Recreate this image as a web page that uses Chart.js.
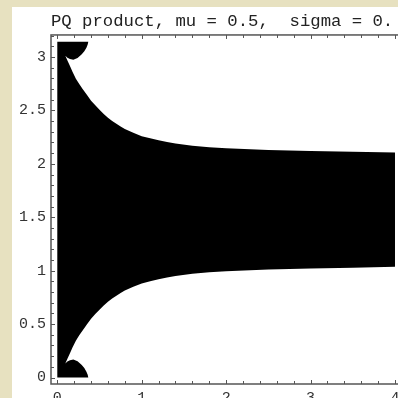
<!DOCTYPE html>
<html>
<head>
<meta charset="utf-8">
<script src="https://cdn.jsdelivr.net/npm/chart.js@4.4.0/dist/chart.umd.min.js"></script>
<style>
  html, body { margin: 0; padding: 0; width: 398px; height: 398px; overflow: hidden; background: #e7e1c0; }
  #panel { position: absolute; left: 12px; top: 7px; width: 420px; height: 400px; background: #fff; }
</style>
</head>
<body>
<div id="panel"><canvas id="myChart" width="420" height="400"></canvas></div>
<script>
const ctx = document.getElementById('myChart').getContext('2d');

const chartTitle = 'PQ product, mu = 0.5,  sigma = 0.';
const xTicks = [0, 1, 2, 3, 4];
const xTickLabels = ['0', '1', '2', '3', '4'];
const yTicks = [0, 0.5, 1, 1.5, 2, 2.5, 3];
const yTickLabels = ['0', '0.5', '1', '1.5', '2', '2.5', '3'];

// band edges (first point is the cusp)
const edgeX     = [0.095, 0.12, 0.15, 0.18, 0.22, 0.26, 0.3, 0.35, 0.4, 0.45, 0.5, 0.55, 0.6, 0.65, 0.7, 0.75, 0.8, 0.9, 1.0, 1.1, 1.2, 1.3, 1.4, 1.6, 1.8, 2.0, 2.5, 3.0, 3.5, 4.0];
const lowerEdge = [0.13, 0.175, 0.227, 0.28, 0.345, 0.395, 0.44, 0.495, 0.55, 0.595, 0.635, 0.675, 0.71, 0.74, 0.765, 0.79, 0.815, 0.85, 0.88, 0.90, 0.92, 0.937, 0.95, 0.972, 0.985, 0.995, 1.01, 1.02, 1.028, 1.036];
const upperEdge = [3.012, 2.967, 2.915, 2.862, 2.797, 2.747, 2.70, 2.647, 2.59, 2.547, 2.507, 2.467, 2.43, 2.40, 2.375, 2.35, 2.325, 2.29, 2.258, 2.24, 2.22, 2.204, 2.19, 2.168, 2.155, 2.145, 2.13, 2.12, 2.113, 2.105];

// the little round notches in the corners
const notchX      = [0.095, 0.12, 0.15, 0.19, 0.24, 0.29, 0.32, 0.345, 0.36, 0.367];
const bottomNotch = [0.13, 0.15, 0.162, 0.168, 0.152, 0.117, 0.088, 0.055, 0.025, 0];
const topNotch    = [3.012, 2.992, 2.98, 2.974, 2.99, 3.025, 3.054, 3.087, 3.117, 3.1416];

const yTop = 3.1416;

// walk round the black region once
const outline = [{x: 0, y: 0}];
for (let i = notchX.length - 1; i >= 0; i--) outline.push({x: notchX[i], y: bottomNotch[i]});
for (let i = 1; i < edgeX.length; i++) outline.push({x: edgeX[i], y: lowerEdge[i]});
for (let i = edgeX.length - 1; i >= 1; i--) outline.push({x: edgeX[i], y: upperEdge[i]});
for (let i = 0; i < notchX.length; i++) outline.push({x: notchX[i], y: topNotch[i]});
outline.push({x: 0, y: yTop});

// Mathematica style frame with inward ticks
const framePlugin = {
    id: 'frame',
    afterDraw(chart) {
        const {ctx, chartArea: a, scales: {x, y}} = chart;
        ctx.save();
        ctx.strokeStyle = '#555';
        ctx.lineWidth = 1.5;
        ctx.strokeRect(a.left, a.top, a.right - a.left, a.bottom - a.top);
        ctx.lineWidth = 1;
        ctx.beginPath();
        for (let i = 0; i <= 20; i++) {
            const len = i % 5 === 0 ? 4 : 3;
            const px = Math.round(x.getPixelForValue(i / 5)) + 0.5;
            ctx.moveTo(px, a.bottom); ctx.lineTo(px, a.bottom - len);
            ctx.moveTo(px, a.top); ctx.lineTo(px, a.top + len);
        }
        for (let i = 0; i <= 32; i++) {
            const len = i % 5 === 0 ? 4 : 3;
            const py = Math.round(y.getPixelForValue(i / 10)) + 0.5;
            ctx.moveTo(a.left, py); ctx.lineTo(a.left + len, py);
            ctx.moveTo(a.right, py); ctx.lineTo(a.right - len, py);
        }
        ctx.stroke();
        ctx.restore();
    }
};

const tickFont = {family: '"Liberation Mono", "Courier New", monospace', size: 15};

const myChart = new Chart(ctx, {
    type: 'line',
    data: {
        datasets: [{
            data: outline,
            fill: 'shape',
            backgroundColor: '#000',
            borderColor: 'rgba(0,0,0,0)',
            borderWidth: 0,
            pointRadius: 0,
            tension: 0
        }]
    },
    options: {
        responsive: false,
        animation: false,
        devicePixelRatio: 1,
        layout: {padding: {left: 0, right: 30, top: 0, bottom: 0}},
        plugins: {
            legend: {display: false},
            tooltip: {enabled: false},
            title: {
                display: true,
                text: chartTitle,
                align: 'start',
                fullSize: false,
                color: '#222',
                font: {family: '"Liberation Mono", "Courier New", monospace', size: 17.3, weight: 'normal', lineHeight: 1.2},
                padding: {top: 4, bottom: 3.2}
            }
        },
        scales: {
            x: {
                type: 'linear',
                min: -0.0746,
                max: 4.083,
                grid: {display: false, drawTicks: false},
                border: {display: false},
                afterBuildTicks: s => { s.ticks = xTicks.map(v => ({value: v})); },
                afterFit: s => { s.height = 23; },
                ticks: {
                    padding: 5,
                    color: '#333',
                    font: tickFont,
                    callback: v => xTickLabels[xTicks.indexOf(v)]
                }
            },
            y: {
                type: 'linear',
                min: -0.0607,
                max: 3.206,
                grid: {display: false, drawTicks: false},
                border: {display: false},
                afterBuildTicks: s => { s.ticks = yTicks.map(v => ({value: v})); },
                afterFit: s => { s.width = 39; },
                ticks: {
                    padding: 5,
                    color: '#333',
                    font: tickFont,
                    callback: v => yTickLabels[yTicks.indexOf(v)]
                }
            }
        }
    },
    plugins: [framePlugin]
});
</script>
</body>
</html>
